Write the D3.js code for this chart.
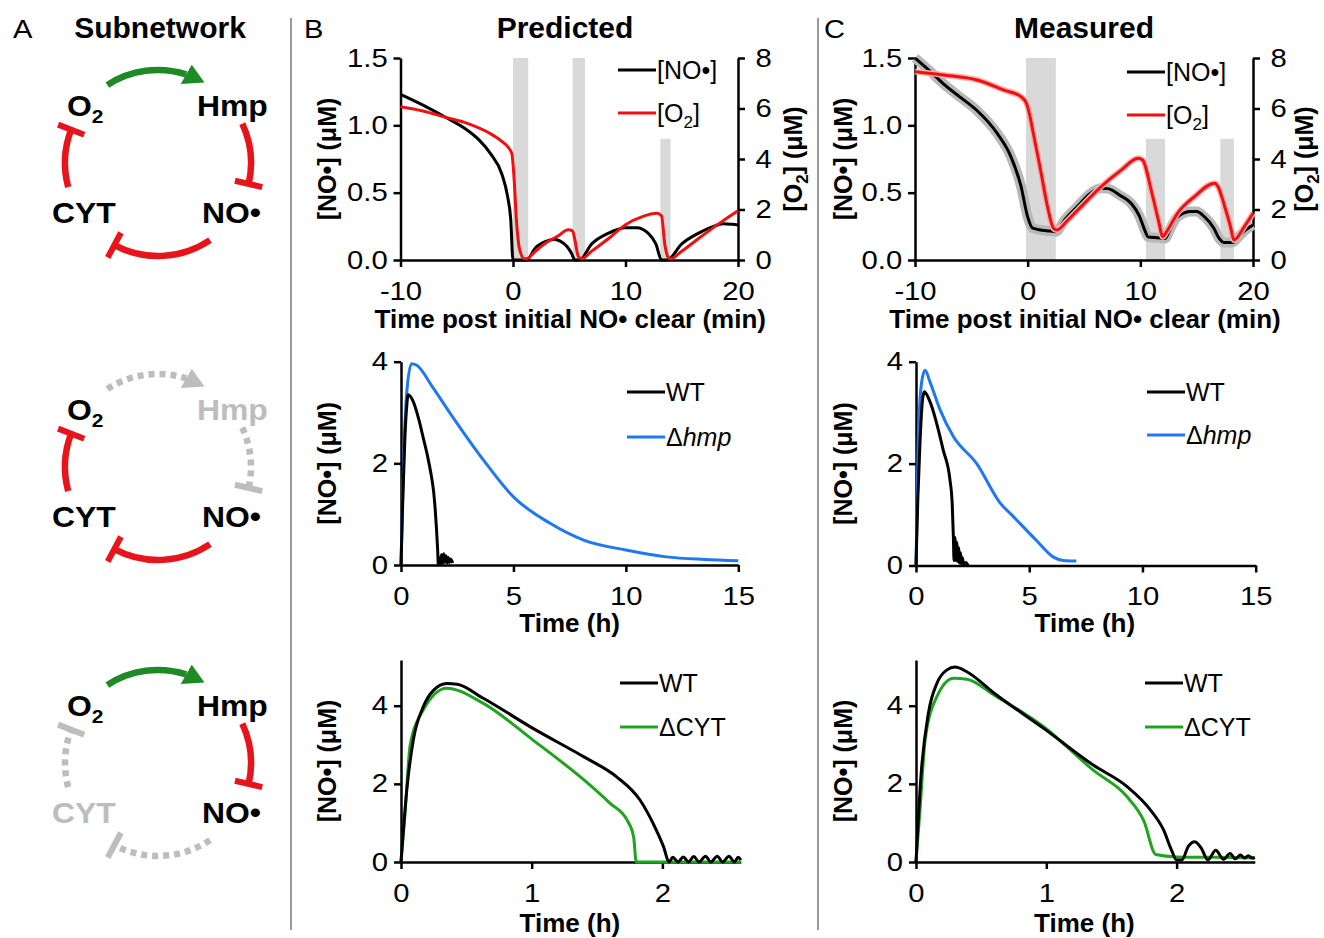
<!DOCTYPE html>
<html>
<head>
<meta charset="utf-8">
<script src="https://cdn.jsdelivr.net/npm/d3@7"></script>
<style>
  body { margin: 0; background: #fff; }
  svg { display: block; }
</style>
</head>
<body>
<div id="chart"></div>
<script>
// ---------- data ----------
// top row: time post initial NO clear (min)  vs  [NO] (uM) / [O2] (uM)
var predNO = [[-10,1.23],[-8,1.15],[-6,1.06],[-4,0.96],[-3,0.89],[-2,0.79],[-1,0.64],[-0.5,0.48],[-0.2,0.3],[0,0],
  [1.2,0],[2,0.09],[3,0.14],[3.6,0.154],[4.2,0.14],[4.8,0.1],[5.2,0.05],[5.5,0],[5.9,0],[7,0.12],[8.5,0.2],[10,0.24],
  [11,0.24],[12,0.2],[12.7,0.12],[13.2,0],[13.7,0],[15,0.12],[16.5,0.2],[18,0.255],[18.7,0.27],[19.5,0.265],[20,0.26]];
var predO2 = [[-10,6.07],[-8,5.9],[-6,5.65],[-4,5.4],[-2,5.0],[-1,4.7],[-0.4,4.45],[-0.1,4.2],[0.1,3.2],[0.3,1.6],
  [0.6,0.4],[1.0,0.05],[1.2,0.05],[2,0.35],[3,0.7],[4,0.95],[4.9,1.2],[5.3,1.15],[5.5,0.8],[5.8,0.15],[6.1,0.05],
  [7,0.35],[8.5,0.85],[10,1.4],[11.5,1.72],[12.8,1.85],[13.2,1.75],[13.5,0.6],[13.8,0.1],[14.0,0.05],[15,0.35],
  [16.7,0.92],[18.5,1.5],[20,1.95]];
var predShade = [[0,1.35,1.5],[5.3,6.4,1.5],[13.1,14.0,0.9]];   // [start, end, top in NO units]

var measNO = [[-10,1.5],[-8.5,1.39],[-7.5,1.31],[-6,1.21],[-4.5,1.11],[-2.7,0.94],[-1.5,0.77],[-0.6,0.55],[0,0.32],
  [0.4,0.24],[1,0.225],[2,0.215],[2.5,0.21],[3.3,0.3],[4.45,0.4],[5.5,0.49],[6.5,0.532],[7.1,0.53],[8.2,0.48],
  [9.2,0.42],[9.9,0.33],[10.4,0.22],[10.7,0.17],[11.5,0.165],[12.2,0.16],[12.7,0.24],[13.3,0.32],[14.5,0.36],
  [15.0,0.36],[15.7,0.32],[16.5,0.24],[17.0,0.16],[17.4,0.13],[18.2,0.13],[18.7,0.17],[19.3,0.22],[20,0.26]];
var measO2 = [[-10,7.46],[-7.5,7.33],[-4.5,7.13],[-2.1,6.73],[-0.6,6.47],[-0.1,6.2],[0.2,5.7],[0.5,5.02],[1.2,3.43],
  [1.76,2.11],[2.3,1.25],[2.6,1.19],[3.5,1.55],[4.45,1.98],[6.5,2.9],[8.3,3.56],[9.8,4.03],[10.2,3.96],[11.0,2.7],
  [11.6,1.58],[12.0,0.92],[12.3,1.1],[13.3,1.85],[14.8,2.51],[16.6,3.04],[16.9,2.9],[17.5,2.1],[18.0,1.32],
  [18.3,0.79],[19.2,1.3],[20,1.85]];
var measShade = [[-0.15,2.5,1.5],[10.5,12.2,0.9],[17.1,18.3,0.9]];

// middle row: time (h) vs [NO] (uM), WT and hmp deletion
var predWThmp = [[0,0],[0.08,1.3],[0.17,2.46],[0.25,3.1],[0.32,3.35],[0.55,3.21],[0.8,2.85],[0.99,2.5],[1.2,2.1],
  [1.35,1.75],[1.45,1.45],[1.52,1.1],[1.58,0.7],[1.63,0.3],[1.66,0],[1.7,0.15],[1.75,0.02],[1.8,0.2],[1.85,0.03],
  [1.9,0.22],[1.95,0.05],[2.0,0.18],[2.05,0.04],[2.1,0.15],[2.15,0.05],[2.2,0.12],[2.3,0.04]];
var predHmp = [[0,0],[0.1,1.8],[0.25,3.37],[0.47,3.96],[0.7,3.93],[1.39,3.51],[2.18,2.99],[3.66,2.07],[5,1.34],
  [6.63,0.82],[8.12,0.49],[10,0.295],[11.8,0.16],[13.5,0.11],[15,0.085]];
var measWThmp = [[0,0],[0.08,1.3],[0.18,2.46],[0.3,3.3],[0.37,3.41],[0.62,3.21],[1.2,2.27],[1.5,1.68],[1.6,1.2],
  [1.65,0.57],[1.68,0.1],[1.72,0.55],[1.75,0.1],[1.8,0.45],[1.84,0.08],[1.88,0.35],[1.92,0.05],[1.97,0.25],
  [2.0,0.03],[2.05,0.15],[2.1,0.02],[2.2,0.06],[2.3,0]];
var measHmp = [[0,0],[0.1,2.46],[0.25,3.6],[0.4,3.83],[0.62,3.6],[1.06,3.06],[1.65,2.53],[2.68,2.0],[3.71,1.23],
  [4.3,0.96],[5.3,0.5],[6.05,0.17],[6.5,0.1],[7.08,0.09]];

// bottom row: time (h) vs [NO] (uM), WT and CYT deletion
var predWTcyt = [[0,0],[0.044,1.84],[0.094,3.12],[0.17,3.97],[0.25,4.4],[0.35,4.57],[0.43,4.55],[0.63,4.19],
  [1.01,3.42],[1.4,2.69],[1.65,2.18],[1.83,1.58],[1.93,0.98],[2.01,0.38],[2.05,0],[2.08,0.12],[2.12,0],[2.16,0.13],
  [2.2,0],[2.24,0.14],[2.28,0],[2.33,0.15],[2.37,0],[2.42,0.15],[2.46,0],[2.51,0.15],[2.55,0],[2.58,0.12],[2.6,0.05]];
var predCyt = [[0,0],[0.03,1.2],[0.07,2.99],[0.17,3.89],[0.35,4.45],[0.63,4.06],[1.01,3.12],[1.4,2.1],[1.6,1.5],
  [1.73,1.07],[1.78,0.64],[1.8,0],[2.6,0]];
var measWTcyt = [[0,0],[0.04,2.28],[0.095,3.81],[0.16,4.57],[0.235,4.91],[0.3,4.99],[0.39,4.87],[0.6,4.32],
  [0.98,3.42],[1.36,2.48],[1.62,1.93],[1.8,1.33],[1.9,0.82],[1.96,0.31],[2.0,0.05],[2.04,0.05],[2.09,0.4],
  [2.14,0.52],[2.19,0.35],[2.24,0.05],[2.3,0.3],[2.36,0.07],[2.41,0.22],[2.45,0.08],[2.49,0.18],[2.52,0.1],
  [2.55,0.16],[2.58,0.1],[2.6,0.12]];
var measCyt = [[0,0],[0.03,1.3],[0.07,3.12],[0.16,4.23],[0.29,4.7],[0.39,4.68],[0.6,4.27],[0.98,3.46],[1.36,2.35],
  [1.62,1.67],[1.75,1.04],[1.84,0.19],[2.0,0.13],[2.3,0.12],[2.6,0.1]];

// tick values
var minTicks = [-10, 0, 10, 20];
var noTicksTop = [0, 0.5, 1.0, 1.5];
var o2Ticks = [0, 2, 4, 6, 8];
var hourTicksLong = [0, 5, 10, 15];
var hourTicksShort = [0, 1, 2];
var noTicks = [0, 2, 4];

// network: nodes, edges, and which node is deleted in each subnetwork
var netNodes = ["O2", "Hmp", "NO•", "CYT"];
var netEdges = [["O2", "Hmp", "activate"], ["Hmp", "NO•", "inhibit"], ["NO•", "CYT", "inhibit"], ["CYT", "O2", "inhibit"]];
var netDeleted = [null, "Hmp", "CYT"];

// ---------- drawing ----------
var FONT = '"Liberation Sans", Arial, Helvetica, sans-serif';
var RED = "#e8141c", GREEN = "#1d8a26", GREY = "#bdbdbd";

var svg = d3.select("#chart").append("svg")
    .attr("width", 1324).attr("height", 938)
    .style("font-family", FONT);

// text drawn at (x,y) and stretched sideways a little, as in the figure
function label(x, y, s, size, weight, anchor, sx) {
  return svg.append("text")
      .attr("transform", "translate(" + x + "," + y + ") scale(" + (sx || 1) + ",1)")
      .attr("font-size", size)
      .attr("font-weight", weight || "normal").attr("text-anchor", anchor || "start")
      .attr("fill", "#000").text(s);
}

// panel headers
label(13, 38, "A", 26, "normal", "start", 1.12);
label(160, 38, "Subnetwork", 30, "bold", "middle");
label(304, 38, "B", 26, "normal", "start", 1.12);
label(565, 38, "Predicted", 30, "bold", "middle");
label(824, 38, "C", 26, "normal", "start", 1.12);
label(1084, 38, "Measured", 30, "bold", "middle");

// dividers
[291, 818].forEach(function(xx) {
  svg.append("line").attr("x1", xx).attr("x2", xx).attr("y1", 18).attr("y2", 930)
      .attr("stroke", "#999").attr("stroke-width", 2);
});

// ----- network diagrams -----
var netCx = 158, netR = 93, netCy = [163, 467, 763];
var nodeOffset = { "O2": [-91, -47], "Hmp": [39, -47], "NO•": [44, 60], "CYT": [-106, 60] };
var edgeAngles = { "O2>Hmp": [-33, 30], "Hmp>NO•": [65, 103], "NO•>CYT": [146, 208], "CYT>O2": [255, 291] };

function polar(cy, deg, r) {
  var a = deg * Math.PI / 180;
  return [netCx + r * Math.sin(a), cy - r * Math.cos(a)];
}

netDeleted.forEach(function(del, k) {
  var cy = netCy[k];
  var g = svg.append("g");

  netEdges.forEach(function(e) {
    var off = del && (e[0] === del || e[1] === del);
    var col = off ? GREY : (e[2] === "activate" ? GREEN : RED);
    var ang = edgeAngles[e[0] + ">" + e[1]];
    var end = ang[1];
    if (e[2] === "activate") end = ang[1] - (20 / netR) * 180 / Math.PI;
    var p = d3.path();
    p.arc(netCx, cy, netR, (ang[0] - 90) * Math.PI / 180, (end - 90) * Math.PI / 180, false);
    g.append("path").attr("d", p.toString()).attr("fill", "none")
        .attr("stroke", col).attr("stroke-width", 6.5)
        .attr("stroke-dasharray", off ? "6 5" : null);

    var a1 = ang[1] * Math.PI / 180;
    var nx = Math.sin(a1), ny = -Math.cos(a1);
    if (e[2] === "activate") {
      var tip = polar(cy, ang[1], netR);
      var base = polar(cy, end, netR);
      var hw = 11;
      g.append("path")
          .attr("d", "M" + tip + "L" + [base[0] + nx * hw, base[1] + ny * hw] + "L" + [base[0] - nx * hw, base[1] - ny * hw] + "Z")
          .attr("fill", col);
    } else {
      var pt = polar(cy, ang[1], netR);
      g.append("line")
          .attr("x1", pt[0] - nx * 14).attr("y1", pt[1] - ny * 14)
          .attr("x2", pt[0] + nx * 14).attr("y2", pt[1] + ny * 14)
          .attr("stroke", col).attr("stroke-width", 6);
    }
  });

  netNodes.forEach(function(n) {
    var o = nodeOffset[n];
    var t = g.append("text")
        .attr("transform", "translate(" + (netCx + o[0]) + "," + (cy + o[1]) + ") scale(1.1,1)")
        .attr("font-size", 29).attr("font-weight", "bold")
        .attr("fill", n === del ? GREY : "#000");
    if (n === "O2") {
      t.append("tspan").text("O");
      t.append("tspan").attr("font-size", 19).attr("dy", 7).text("2");
    } else {
      t.text(n);
    }
  });
});

// ----- chart panels -----
function styleAxis(a) {
  a.attr("font-size", 25).attr("font-family", FONT);
  a.select(".domain").attr("stroke", "#000").attr("stroke-width", 2.5);
  a.selectAll(".tick line").attr("stroke", "#000").attr("stroke-width", 2.5);
  a.selectAll(".tick text").attr("fill", "#000").attr("transform", "scale(1.17,1)");
}

function rotLabel(g, x, y, parts) {
  var t = g.append("text").attr("transform", "translate(" + x + "," + y + ") rotate(-90)")
      .attr("text-anchor", "middle").attr("dy", "0.35em")
      .attr("font-size", 25).attr("font-weight", "bold").attr("fill", "#000");
  addParts(t, parts);
}

function addParts(t, parts) {
  parts.forEach(function(p) {
    if (typeof p === "string") { t.append("tspan").text(p); return; }
    var s = t.append("tspan").text(p.t);
    if (p.sub) s.attr("font-size", 17).attr("dy", 6);
    if (p.after) s.attr("dy", -6);
    if (p.italic) s.attr("font-style", "italic");
  });
}

var NO_LABEL = ["[NO•] (μM)"];
var O2_LABEL = ["[O", { t: "2", sub: true }, { t: "] (μM)", after: true }];

function drawPanel(c) {
  var g = svg.append("g");
  var x = d3.scaleLinear().domain(c.xDomain).range(c.xRange);
  var y = d3.scaleLinear().domain(c.yDomain).range(c.yRange);
  var y2 = c.y2Domain ? d3.scaleLinear().domain(c.y2Domain).range(c.yRange) : null;

  if (c.shade) {
    g.selectAll("rect.shade").data(c.shade).join("rect").attr("class", "shade")
        .attr("x", function(d) { return x(d[0]); })
        .attr("width", function(d) { return x(d[1]) - x(d[0]); })
        .attr("y", function(d) { return y(d[2]); })
        .attr("height", function(d) { return y(0) - y(d[2]); })
        .attr("fill", "#d9d9d9");
  }

  var ax = g.append("g").attr("transform", "translate(0," + c.yRange[0] + ")")
      .call(d3.axisBottom(x).tickValues(c.xTicks).tickFormat(function(d) { return String(d); })
        .tickSize(7).tickSizeOuter(0).tickPadding(15));
  styleAxis(ax);
  var ay = g.append("g").attr("transform", "translate(" + c.xRange[0] + ",0)")
      .call(d3.axisLeft(y).tickValues(c.yTicks).tickFormat(c.yFormat || function(d) { return String(d); })
        .tickSize(7).tickSizeOuter(0).tickPadding(4));
  styleAxis(ay);
  if (y2) {
    var ay2 = g.append("g").attr("transform", "translate(" + c.xRange[1] + ",0)")
        .call(d3.axisRight(y2).tickValues(c.y2Ticks).tickFormat(function(d) { return String(d); })
          .tickSize(7).tickSizeOuter(0).tickPadding(8));
    styleAxis(ay2);
  }

  c.series.forEach(function(s) {
    var ys = s.right ? y2 : y;
    var line = d3.line().x(function(d) { return x(d[0]); }).y(function(d) { return ys(d[1]); })
        .curve(d3.curveMonotoneX);
    if (s.halo) {
      g.append("path").datum(s.data).attr("d", line).attr("fill", "none")
          .attr("stroke", s.halo).attr("stroke-width", s.haloWidth).attr("stroke-linejoin", "round");
    }
    g.append("path").datum(s.data).attr("d", line).attr("fill", "none")
        .attr("stroke", s.color).attr("stroke-width", 3).attr("stroke-linejoin", "round");
  });

  // legend
  c.legend.items.forEach(function(it, i) {
    var ly = c.legend.y[i];
    g.append("line").attr("x1", c.legend.x).attr("x2", c.legend.x + 38)
        .attr("y1", ly).attr("y2", ly).attr("stroke", it.color).attr("stroke-width", 3);
    var t = g.append("text").attr("x", c.legend.x + 39).attr("y", ly + 9)
        .attr("font-size", 25).attr("fill", "#000");
    addParts(t, it.parts);
  });

  // axis titles
  g.append("text").attr("x", (c.xRange[0] + c.xRange[1]) / 2 + (c.xTitleShift || 0)).attr("y", c.xTitleY)
      .attr("text-anchor", "middle").attr("font-size", 26).attr("font-weight", "bold")
      .attr("fill", "#000").text(c.xTitle);
  rotLabel(g, c.yTitleX, (c.yRange[0] + c.yRange[1]) / 2, NO_LABEL);
  if (y2) rotLabel(g, c.y2TitleX, (c.yRange[0] + c.yRange[1]) / 2, O2_LABEL);
}

var legNO = [{ color: "#000", parts: ["[NO•]"] }, { color: "#f01010", parts: ["[O", { t: "2", sub: true }, { t: "]", after: true }] }];
var legHmp = [{ color: "#000", parts: ["WT"] }, { color: "#1f78f0", parts: ["Δ", { t: "hmp", italic: true }] }];
var legCyt = [{ color: "#000", parts: ["WT"] }, { color: "#1ea51e", parts: ["ΔCYT"] }];
var fmt1 = d3.format(".1f");

// top row
drawPanel({
  xDomain: [-10, 20], xRange: [400.5, 738], yDomain: [0, 1.5], yRange: [260, 58], y2Domain: [0, 8],
  xTicks: minTicks, yTicks: noTicksTop, y2Ticks: o2Ticks, yFormat: fmt1, shade: predShade,
  series: [{ data: predNO, color: "#000" }, { data: predO2, color: "#f01010", right: true }],
  legend: { x: 618, y: [70, 113], items: legNO },
  xTitle: "Time post initial NO• clear (min)", xTitleY: 328, xTitleShift: 1,
  yTitleX: 327, y2TitleX: 793
});
drawPanel({
  xDomain: [-10, 20], xRange: [915, 1253], yDomain: [0, 1.5], yRange: [260, 58], y2Domain: [0, 8],
  xTicks: minTicks, yTicks: noTicksTop, y2Ticks: o2Ticks, yFormat: fmt1, shade: measShade,
  series: [{ data: measNO, color: "#000", halo: "#b8b8b8", haloWidth: 10 },
           { data: measO2, color: "#f01010", right: true, halo: "#f7b0b0", haloWidth: 6 }],
  legend: { x: 1127, y: [72, 115], items: legNO },
  xTitle: "Time post initial NO• clear (min)", xTitleY: 328, xTitleShift: 1,
  yTitleX: 843, y2TitleX: 1304
});

// middle row
drawPanel({
  xDomain: [0, 15], xRange: [401, 738.3], yDomain: [0, 4], yRange: [565, 361.7],
  xTicks: hourTicksLong, yTicks: noTicks,
  series: [{ data: predHmp, color: "#1f78f0" }, { data: predWThmp, color: "#000" }],
  legend: { x: 627, y: [392, 437], items: legHmp },
  xTitle: "Time (h)", xTitleY: 632, xTitleShift: 0, yTitleX: 327
});
drawPanel({
  xDomain: [0, 15], xRange: [916, 1255.7], yDomain: [0, 4], yRange: [565.5, 361.7],
  xTicks: hourTicksLong, yTicks: noTicks,
  series: [{ data: measHmp, color: "#1f78f0" }, { data: measWThmp, color: "#000" }],
  legend: { x: 1147, y: [392, 435], items: legHmp },
  xTitle: "Time (h)", xTitleY: 632, xTitleShift: -1, yTitleX: 843
});

// bottom row
drawPanel({
  xDomain: [0, 2.6], xRange: [401, 740.8], yDomain: [0, 5.17], yRange: [862, 660],
  xTicks: hourTicksShort, yTicks: noTicks,
  series: [{ data: predCyt, color: "#1ea51e" }, { data: predWTcyt, color: "#000" }],
  legend: { x: 620, y: [683, 727], items: legCyt },
  xTitle: "Time (h)", xTitleY: 932, xTitleShift: -1, yTitleX: 327
});
drawPanel({
  xDomain: [0, 2.6], xRange: [916, 1254.8], yDomain: [0, 5.17], yRange: [862, 660],
  xTicks: hourTicksShort, yTicks: noTicks,
  series: [{ data: measCyt, color: "#1ea51e" }, { data: measWTcyt, color: "#000" }],
  legend: { x: 1145, y: [683, 727], items: legCyt },
  xTitle: "Time (h)", xTitleY: 932, xTitleShift: -1, yTitleX: 843
});
</script>
</body>
</html>
